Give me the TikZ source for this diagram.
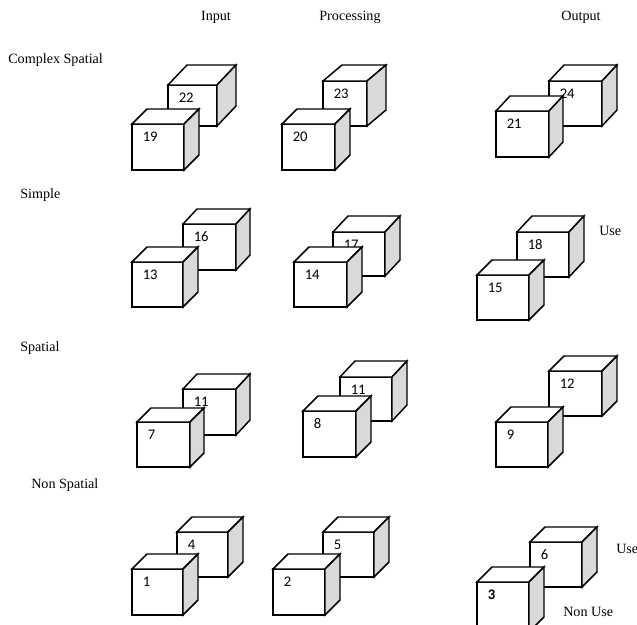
\documentclass[tikz,border=0pt]{standalone}
\usepackage{fontspec}
\setmainfont{Liberation Serif}
\newfontfamily\digitfont{Carlito}
\definecolor{sidegray}{HTML}{D9D9D9}
\tikzset{
  cubeline/.style={draw=black, line width=1.1pt, line join=miter},
  cubelabel/.style={anchor=west, inner sep=0pt, font=\digitfont\fontsize{11}{13}\selectfont},
  headtext/.style={inner sep=0pt, font=\fontsize{10.6}{12}\selectfont},
  rowtext/.style={anchor=west, inner sep=0pt, font=\fontsize{10.6}{12}\selectfont}
}
% #1 name, #2 x1, #3 y1, #4 x2, #5 y2, #6 dx, #7 dy, #8 label
\newcommand\cubebox[8]{%
  \filldraw[cubeline, fill=white] (#2,#3) rectangle (#4,#5);
  \filldraw[cubeline, fill=white] (#2,#3) -- (#2+#6,#3-#7) -- (#4+#6,#3-#7) -- (#4,#3) -- cycle;
  \filldraw[cubeline, fill=sidegray] (#4,#3) -- (#4+#6,#3-#7) -- (#4+#6,#5-#7) -- (#4,#5) -- cycle;
  \node[cubelabel] (#1) at (#2+10.5,#3+13) {#8};
}
\begin{document}
\begin{tikzpicture}[x=0.75pt, y=-0.75pt]
\useasboundingbox (0,0) rectangle (637,625);
\clip (0,0) rectangle (637,625);
% headers
\node[headtext] (hin) at (216,17) {Input};
\node[headtext] (hproc) at (350,17) {Processing};
\node[headtext] (hout) at (581,17) {Output};
% row labels
\node[rowtext] (rcomplex) at (8,60) {Complex Spatial};
\node[rowtext] (rsimple) at (20,195) {Simple};
\node[rowtext] (rspatial) at (20,348) {Spatial};
\node[rowtext] (rnon) at (31,485) {Non Spatial};
% row 1
\cubebox{c22}{168}{85}{217}{126}{19}{20}{22}
\cubebox{c19}{132}{124}{184}{170}{15}{15}{19}
\cubebox{c23}{323}{81}{367}{126}{19}{16}{23}
\cubebox{c20}{282}{124}{335}{170}{15}{15}{20}
\cubebox{c24}{549}{81}{602}{126}{15}{16}{24}
\cubebox{c21}{496}{111}{549}{157}{14}{15}{21}
% row 2
\cubebox{c16}{183}{224}{236}{270}{14}{15}{16}
\cubebox{c13}{132}{262}{183}{307}{15}{15}{13}
\cubebox{c17}{333}{232}{385}{276}{15}{16}{17}
\cubebox{c14}{294}{262}{347}{307}{15}{15}{14}
\cubebox{c18}{517}{232}{569}{277}{15}{16}{18}
\cubebox{c15}{477}{275}{529}{320}{15}{15}{15}
\node[rowtext] (use1) at (599,231) {Use};
% row 3
\cubebox{c11a}{183}{389}{236}{435}{14}{15}{11}
\cubebox{c7}{137}{422}{190}{467}{14}{14}{7}
\cubebox{c11b}{340}{377}{392}{421}{15}{16}{11}
\cubebox{c8}{303}{411}{356}{457}{15}{15}{8}
\cubebox{c12}{549}{371}{602}{416}{15}{15}{12}
\cubebox{c9}{496}{422}{548}{467}{15}{15}{9}
% row 4
\cubebox{c4}{177}{532}{228}{577}{15}{15}{4}
\cubebox{c1}{132}{569}{183}{615}{15}{15}{1}
\cubebox{c5}{323}{532}{374}{577}{15}{15}{5}
\cubebox{c2}{273}{569}{325}{615}{15}{15}{2}
\cubebox{c6}{530}{542}{582}{587}{15}{15}{6}
\cubebox{c3}{477}{582}{529}{632}{15}{15}{\textbf{3}}
\node[rowtext] (use2) at (616,549) {Use};
\node[rowtext] (nonuse) at (563,612) {Non Use};
\end{tikzpicture}
\end{document}
